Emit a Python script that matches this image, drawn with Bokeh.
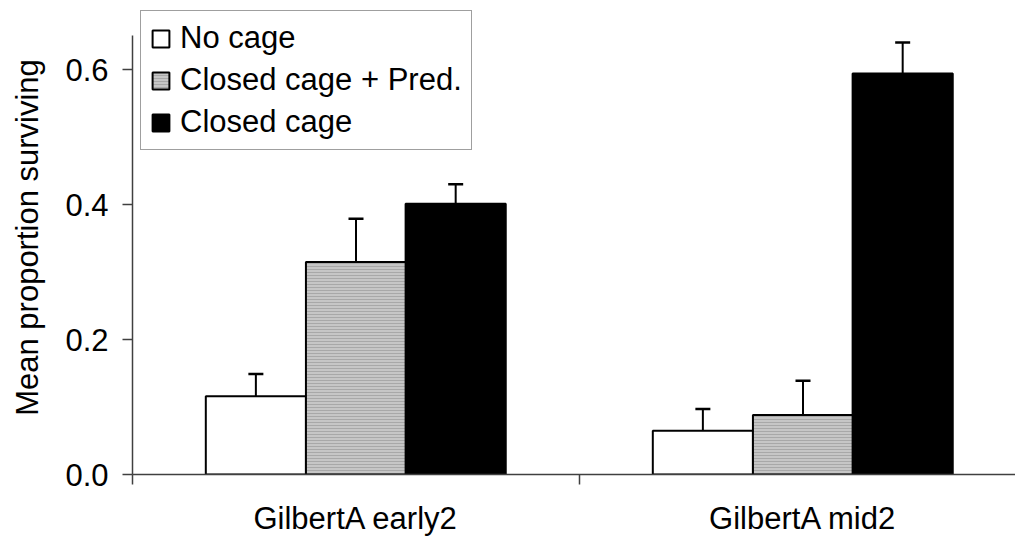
import numpy as np
from bokeh.plotting import figure
from bokeh.models import (ColumnDataSource, Range1d, FixedTicker, Whisker, TeeHead,
                          Legend, LegendItem)
from bokeh.transform import dodge
from bokeh.embed import file_html
from bokeh.resources import INLINE

# ---- data ----
categories = ["GilbertA early2", "GilbertA mid2"]
series_names = ["No cage", "Closed cage + Pred.", "Closed cage"]
no_cage = [0.116, 0.065]
no_cage_err = [0.033, 0.032]
closed_pred = [0.315, 0.088]
closed_pred_err = [0.064, 0.051]
closed = [0.401, 0.594]
closed_err = [0.029, 0.046]
y_ticks = [0.0, 0.2, 0.4, 0.6]
y_axis_max = 0.65

FONT = "Liberation Sans"
FS = "31px"

centers = np.arange(len(categories)) + 0.5
src = ColumnDataSource(dict(
    x=centers,
    nc=no_cage, nc_hi=np.array(no_cage) + np.array(no_cage_err),
    cp=closed_pred, cp_hi=np.array(closed_pred) + np.array(closed_pred_err),
    cl=closed, cl_hi=np.array(closed) + np.array(closed_err),
))

W, H = 1015, 539
LEFT, BOTTOM = 132, 65
FRAME_H = H - BOTTOM           # frame spans the full height above the x axis
PX_PER_UNIT = 675.0
p = figure(width=W, height=H, output_backend="svg", toolbar_location=None,
           x_range=Range1d(0, (W - LEFT) / 447),
           y_range=Range1d(0, FRAME_H / PX_PER_UNIT),
           min_border_left=LEFT, min_border_right=0, min_border_top=0,
           min_border_bottom=BOTTOM)
p.grid.visible = False
p.outline_line_color = None
p.background_fill_color = "white"

bw = 0.224
offs = [-0.224, 0.0, 0.223]
r1 = p.vbar(x=dodge("x", offs[0]), top="nc", width=bw, source=src,
            fill_color="white", line_color="black", line_width=2)
r2 = p.vbar(x=dodge("x", offs[1]), top="cp", width=bw, source=src,
            fill_color="#c6c6c6", line_color="black", line_width=2,
            hatch_pattern="horizontal_line", hatch_color="#a8a8a8",
            hatch_scale=3, hatch_weight=1)
r3 = p.vbar(x=dodge("x", offs[2]), top="cl", width=bw, source=src,
            fill_color="black", line_color="black", line_width=2)

for off, base, hi in [(offs[0], "nc", "nc_hi"), (offs[1], "cp", "cp_hi"), (offs[2], "cl", "cl_hi")]:
    w = Whisker(base=dodge("x", off), lower=base, upper=hi, source=src,
                dimension="height", line_color="black", line_width=2,
                lower_head=None,
                upper_head=TeeHead(size=15, line_color="black", line_width=2.5))
    p.add_layout(w)

# x axis: labels at group centres, separator ticks between groups
xa = p.xaxis[0]
xa.ticker = FixedTicker(ticks=list(centers), minor_ticks=[0, 1, 2])
xa.major_label_overrides = {float(c): n for c, n in zip(centers, categories)}
xa.major_tick_out = 0
xa.major_tick_in = 0
xa.minor_tick_out = 10
xa.minor_tick_in = 0
xa.minor_tick_line_color = "#404040"
xa.minor_tick_line_width = 1.5
xa.axis_line_color = "#404040"
xa.axis_line_width = 1.5
xa.major_label_standoff = 16
xa.major_label_text_font = FONT
xa.major_label_text_font_size = FS
xa.major_label_text_color = "black"

ya = p.yaxis[0]
ya.ticker = FixedTicker(ticks=y_ticks, minor_ticks=[])
ya.major_label_overrides = {t: f"{t:.1f}" for t in y_ticks}
ya.bounds = (0, y_axis_max)
ya.major_tick_out = 10
ya.major_tick_in = 0
ya.major_tick_line_color = "#404040"
ya.major_tick_line_width = 1.5
ya.axis_line_color = "#404040"
ya.axis_line_width = 1.5
ya.major_label_standoff = 14
ya.major_label_text_font = FONT
ya.major_label_text_font_size = FS
ya.major_label_text_color = "black"
ya.axis_label = "Mean proportion surviving"
ya.axis_label_text_font = FONT
ya.axis_label_text_font_size = FS
ya.axis_label_text_font_style = "normal"
ya.axis_label_text_color = "black"
ya.axis_label_standoff = 17

legend = Legend(items=[LegendItem(label=series_names[0], renderers=[r1]),
                       LegendItem(label=series_names[1], renderers=[r2]),
                       LegendItem(label=series_names[2], renderers=[r3])],
                location=(8, 324), orientation="vertical",
                glyph_width=21, glyph_height=21, label_standoff=9,
                padding=9, spacing=6, margin=0,
                label_text_font=FONT, label_text_font_size=FS,
                label_text_color="black",
                border_line_color="#404040", border_line_width=1.5,
                background_fill_color="white", background_fill_alpha=1.0)
p.add_layout(legend, "center")

open("out.html", "w").write(file_html(p, INLINE))
